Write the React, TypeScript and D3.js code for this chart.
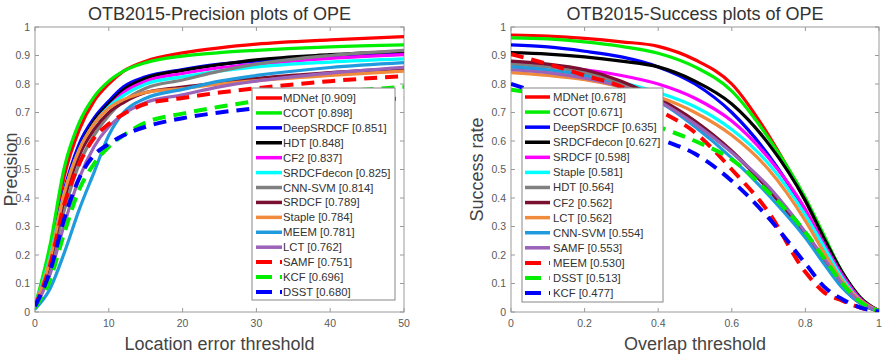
import React from "react";
import * as d3 from "d3";

// ---- Precision plot data (location error threshold in pixels) ----
const precThresholds = [0, 2, 4, 6, 8, 10, 12, 15, 20, 25, 30, 40, 50];
const precNames = ["MDNet", "CCOT", "DeepSRDCF", "HDT", "CF2", "SRDCFdecon", "CNN-SVM", "SRDCF", "Staple", "MEEM", "LCT", "SAMF", "KCF", "DSST"];
const precScores = [0.909, 0.898, 0.851, 0.848, 0.837, 0.825, 0.814, 0.789, 0.784, 0.781, 0.762, 0.751, 0.696, 0.68];
const precMDNet = [0.02, 0.21, 0.48, 0.64, 0.74, 0.8, 0.845, 0.88, 0.909, 0.927, 0.94, 0.955, 0.966];
const precCCOT = [0.02, 0.23, 0.51, 0.665, 0.755, 0.81, 0.845, 0.875, 0.898, 0.91, 0.918, 0.93, 0.937];
const precDeepSRDCF = [0.02, 0.18, 0.43, 0.59, 0.68, 0.74, 0.79, 0.825, 0.851, 0.87, 0.88, 0.895, 0.905];
const precHDT = [0.02, 0.17, 0.41, 0.57, 0.67, 0.73, 0.78, 0.82, 0.848, 0.868, 0.885, 0.903, 0.915];
const precCF2 = [0.02, 0.17, 0.4, 0.56, 0.66, 0.72, 0.77, 0.81, 0.837, 0.857, 0.87, 0.89, 0.903];
const precSRDCFdecon = [0.02, 0.19, 0.42, 0.57, 0.66, 0.72, 0.76, 0.8, 0.825, 0.845, 0.86, 0.877, 0.888];
const precCNNSVM = [0.015, 0.15, 0.36, 0.52, 0.62, 0.69, 0.74, 0.785, 0.814, 0.845, 0.87, 0.9, 0.918];
const precSRDCF = [0.02, 0.17, 0.4, 0.55, 0.64, 0.7, 0.735, 0.77, 0.789, 0.805, 0.82, 0.84, 0.855];
const precStaple = [0.02, 0.18, 0.42, 0.57, 0.66, 0.715, 0.745, 0.77, 0.784, 0.8, 0.812, 0.83, 0.845];
const precMEEM = [0.01, 0.08, 0.21, 0.36, 0.49, 0.62, 0.7, 0.75, 0.781, 0.81, 0.83, 0.858, 0.875];
const precLCT = [0.015, 0.13, 0.31, 0.47, 0.58, 0.65, 0.695, 0.735, 0.762, 0.79, 0.81, 0.838, 0.858];
const precSAMF = [0.02, 0.16, 0.38, 0.52, 0.61, 0.66, 0.695, 0.73, 0.751, 0.77, 0.785, 0.81, 0.828];
const precKCF = [0.015, 0.11, 0.28, 0.43, 0.52, 0.58, 0.62, 0.665, 0.696, 0.72, 0.74, 0.77, 0.79];
const precDSST = [0.02, 0.14, 0.33, 0.47, 0.55, 0.59, 0.62, 0.65, 0.68, 0.7, 0.715, 0.735, 0.75];
const precSeries = [precMDNet, precCCOT, precDeepSRDCF, precHDT, precCF2, precSRDCFdecon, precCNNSVM, precSRDCF, precStaple, precMEEM, precLCT, precSAMF, precKCF, precDSST];

// ---- Success plot data (overlap threshold) ----
const succThresholds = [0, 0.1, 0.2, 0.3, 0.4, 0.5, 0.6, 0.7, 0.8, 0.85, 0.9, 0.95, 1];
const succNames = ["MDNet", "CCOT", "DeepSRDCF", "SRDCFdecon", "SRDCF", "Staple", "HDT", "CF2", "LCT", "CNN-SVM", "SAMF", "MEEM", "DSST", "KCF"];
const succScores = [0.678, 0.671, 0.635, 0.627, 0.598, 0.581, 0.564, 0.562, 0.562, 0.554, 0.553, 0.53, 0.513, 0.477];
const succMDNet = [0.972, 0.968, 0.96, 0.948, 0.932, 0.885, 0.8, 0.62, 0.39, 0.26, 0.13, 0.045, 0.005];
const succCCOT = [0.962, 0.958, 0.948, 0.932, 0.908, 0.86, 0.775, 0.61, 0.4, 0.27, 0.14, 0.05, 0.005];
const succDeepSRDCF = [0.937, 0.93, 0.915, 0.895, 0.86, 0.8, 0.7, 0.55, 0.35, 0.23, 0.12, 0.04, 0.003];
const succSRDCFdecon = [0.91, 0.905, 0.895, 0.88, 0.86, 0.81, 0.73, 0.59, 0.39, 0.26, 0.14, 0.05, 0.004];
const succSRDCF = [0.874, 0.865, 0.85, 0.83, 0.8, 0.75, 0.67, 0.54, 0.36, 0.24, 0.13, 0.045, 0.004];
const succStaple = [0.856, 0.845, 0.83, 0.805, 0.77, 0.72, 0.64, 0.52, 0.34, 0.23, 0.12, 0.04, 0.003];
const succHDT = [0.87, 0.86, 0.84, 0.8, 0.74, 0.66, 0.56, 0.43, 0.27, 0.18, 0.09, 0.03, 0.002];
const succCF2 = [0.88, 0.87, 0.85, 0.81, 0.75, 0.67, 0.565, 0.43, 0.27, 0.18, 0.09, 0.03, 0.002];
const succLCT = [0.84, 0.83, 0.815, 0.79, 0.755, 0.7, 0.62, 0.5, 0.32, 0.21, 0.11, 0.04, 0.003];
const succCNNSVM = [0.86, 0.85, 0.83, 0.79, 0.74, 0.65, 0.54, 0.41, 0.26, 0.17, 0.085, 0.03, 0.002];
const succSAMF = [0.85, 0.84, 0.82, 0.79, 0.74, 0.66, 0.56, 0.44, 0.28, 0.19, 0.1, 0.035, 0.003];
const succMEEM = [0.905, 0.87, 0.83, 0.79, 0.71, 0.63, 0.5, 0.35, 0.14, 0.07, 0.04, 0.015, 0.003];
const succDSST = [0.78, 0.76, 0.73, 0.7, 0.65, 0.6, 0.535, 0.42, 0.28, 0.19, 0.1, 0.035, 0.003];
const succKCF = [0.8, 0.76, 0.72, 0.67, 0.61, 0.555, 0.46, 0.33, 0.17, 0.09, 0.045, 0.015, 0.002];
const succSeries = [succMDNet, succCCOT, succDeepSRDCF, succSRDCFdecon, succSRDCF, succStaple, succHDT, succCF2, succLCT, succCNNSVM, succSAMF, succMEEM, succDSST, succKCF];

// Line styles by rank (the same palette is reused for both plots)
const rankColors = ["#ff0000", "#00ee00", "#0000ff", "#000000", "#ff00ff", "#00ffff", "#808080", "#7a1030", "#f08a3c", "#1f9bde", "#9a62b8", "#ff0000", "#00ee00", "#0000ff"];
const rankDashed = [false, false, false, false, false, false, false, false, false, false, false, true, true, true];

const precXTicks = [0, 10, 20, 30, 40, 50];
const succXTicks = [0, 0.2, 0.4, 0.6, 0.8, 1];
const yTicks = [0, 0.1, 0.2, 0.3, 0.4, 0.5, 0.6, 0.7, 0.8, 0.9, 1];

const FONT = "'Liberation Sans', Arial, Helvetica, sans-serif";

type PanelProps = {
  id: string;
  left: number;
  right: number;
  title: string;
  xLabel: string;
  yLabel: string;
  yLabelX: number;
  xDomain: [number, number];
  xTicks: number[];
  thresholds: number[];
  series: number[][];
  names: string[];
  scores: number[];
  legend: { x: number; y: number; w: number; h: number; lineX0: number; lineX1: number; textX: number; firstY: number; step: number };
};

function Panel(p: PanelProps) {
  const top = 27;
  const bottom = 312;
  const x = d3.scaleLinear().domain(p.xDomain).range([p.left, p.right]);
  const y = d3.scaleLinear().domain([0, 1]).range([bottom, top]);
  const line = d3
    .line<[number, number]>()
    .x((d) => x(d[0]))
    .y((d) => y(d[1]))
    .curve(d3.curveMonotoneX);
  const tickLen = 4;
  const axisColor = "#9a9a9a";
  const labelColor = "#5a5a5a";
  const fmt = (v: number) => (v === 0 ? "0" : v === 1 ? "1" : String(v));
  const cx = (p.left + p.right) / 2;
  const cy = (top + bottom) / 2;
  return (
    <g>
      <defs>
        <clipPath id={p.id + "-clip"}>
          <rect x={p.left} y={top} width={p.right - p.left} height={bottom - top} />
        </clipPath>
      </defs>
      <rect x={p.left} y={top} width={p.right - p.left} height={bottom - top} fill="#fff" stroke={axisColor} strokeWidth={1} />
      {p.xTicks.map((t) => (
        <g key={"xt" + t}>
          <line x1={x(t)} x2={x(t)} y1={bottom} y2={bottom - tickLen} stroke={axisColor} />
          <line x1={x(t)} x2={x(t)} y1={top} y2={top + tickLen} stroke={axisColor} />
          <text x={x(t)} y={bottom + 15} textAnchor="middle" fontSize={10.5} fill={labelColor} fontFamily={FONT}>
            {fmt(t)}
          </text>
        </g>
      ))}
      {yTicks.map((t) => (
        <g key={"yt" + t}>
          <line x1={p.left} x2={p.left + tickLen} y1={y(t)} y2={y(t)} stroke={axisColor} />
          <line x1={p.right} x2={p.right - tickLen} y1={y(t)} y2={y(t)} stroke={axisColor} />
          <text x={p.left - 5} y={y(t) + 3.6} textAnchor="end" fontSize={10.5} fill={labelColor} fontFamily={FONT}>
            {fmt(Math.round(t * 10) / 10)}
          </text>
        </g>
      ))}
      <g clipPath={`url(#${p.id}-clip)`}>
        {p.series.map((vals, i) => {
          const pts = p.thresholds.map((t, j) => [t, vals[j]] as [number, number]);
          return (
            <path
              key={p.names[i]}
              d={line(pts) || ""}
              fill="none"
              stroke={rankColors[i]}
              strokeWidth={rankDashed[i] ? 4 : 3.2}
              strokeDasharray={rankDashed[i] ? "13,8" : undefined}
              strokeLinejoin="round"
            />
          );
        })}
      </g>
      <text x={cx} y={20} textAnchor="middle" fontSize={18} fill="#333" fontFamily={FONT}>
        {p.title}
      </text>
      <text x={cx} y={350} textAnchor="middle" fontSize={18} fill="#444" fontFamily={FONT}>
        {p.xLabel}
      </text>
      <text
        transform={`translate(${p.yLabelX},${cy}) rotate(-90)`}
        textAnchor="middle"
        fontSize={18}
        fill="#444"
        fontFamily={FONT}
      >
        {p.yLabel}
      </text>
      <g>
        <rect x={p.legend.x} y={p.legend.y} width={p.legend.w} height={p.legend.h} fill="#fff" stroke="#888" strokeWidth={1} />
        {p.names.map((n, i) => {
          const ly = p.legend.firstY + i * p.legend.step;
          return (
            <g key={"lg" + n}>
              <line
                x1={p.legend.lineX0}
                x2={p.legend.lineX1}
                y1={ly}
                y2={ly}
                stroke={rankColors[i]}
                strokeWidth={rankDashed[i] ? 4 : 3.5}
                strokeDasharray={rankDashed[i] ? "16,8" : undefined}
              />
              <text x={p.legend.textX} y={ly + 4} fontSize={11.3} fill="#333" fontFamily={FONT}>
                {`${n} [${p.scores[i].toFixed(3)}]`}
              </text>
            </g>
          );
        })}
      </g>
    </g>
  );
}

export default function App() {
  return (
    <svg width={887} height={362} style={{ position: "absolute", left: 0, top: 0, background: "#fff" }}>
      <rect x={0} y={0} width={887} height={362} fill="#fff" />
      <Panel
        id="prec"
        left={35}
        right={404}
        title="OTB2015-Precision plots of OPE"
        xLabel="Location error threshold"
        yLabel="Precision"
        yLabelX={17}
        xDomain={[0, 50]}
        xTicks={precXTicks}
        thresholds={precThresholds}
        series={precSeries}
        names={precNames}
        scores={precScores}
        legend={{ x: 252, y: 88, w: 143, h: 212, lineX0: 256, lineX1: 282, textX: 283, firstY: 98, step: 14.92 }}
      />
      <Panel
        id="succ"
        left={511}
        right={879}
        title="OTB2015-Success plots of OPE"
        xLabel="Overlap threshold"
        yLabel="Success rate"
        yLabelX={483}
        xDomain={[0, 1]}
        xTicks={succXTicks}
        thresholds={succThresholds}
        series={succSeries}
        names={succNames}
        scores={succScores}
        legend={{ x: 522, y: 88, w: 141, h: 214, lineX0: 525, lineX1: 550, textX: 553, firstY: 97, step: 15.08 }}
      />
    </svg>
  );
}
